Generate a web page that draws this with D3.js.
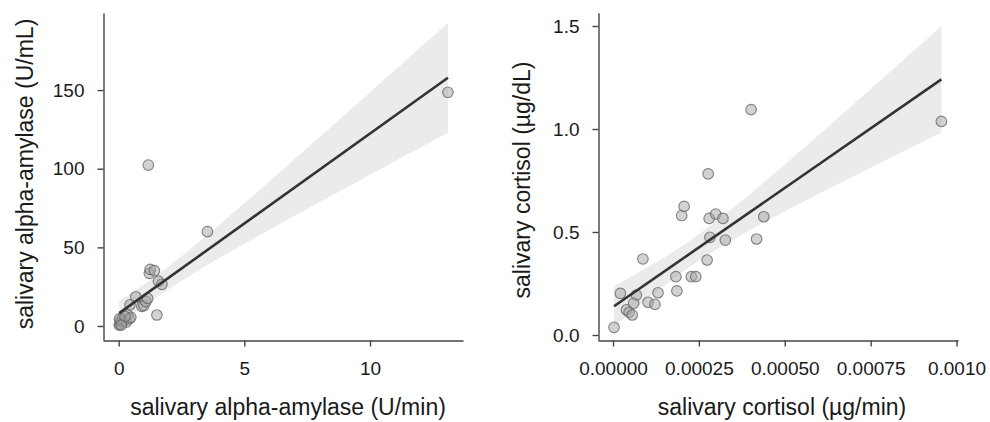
<!DOCTYPE html>
<html>
<head>
<meta charset="utf-8">
<script src="https://cdn.jsdelivr.net/npm/d3@7"></script>
<style>
  html, body { margin: 0; padding: 0; background: #fff; }
  svg { display: block; font-family: "Liberation Sans", Arial, Helvetica, sans-serif; }
</style>
</head>
<body>
<svg id="chart" width="990" height="422"></svg>
<script>
// Salivary alpha-amylase: secretion rate (U/min) against concentration (U/mL)
const amylaseRate = [0.02, 0.05, 0.08, 0.12, 0.15, 0.22, 0.30, 0.35, 0.42, 0.48,
                     0.45, 0.68, 0.92, 1.00, 1.08, 1.15, 1.18, 1.22, 1.25, 1.42,
                     1.52, 1.58, 1.72, 3.53, 13.10, 0.03, 0.25, 0.10];
const amylaseConc = [0.6, 1.5, 3.8, 2.7, 5.0, 3.5, 2.5, 7.0, 4.5, 5.5,
                     13.5, 18.6, 12.5, 13.0, 15.5, 17.5, 102.3, 33.5, 36.0, 35.2,
                     7.0, 28.5, 26.5, 60.0, 148.6, 4.5, 6.0, 0.5];
const amylaseXTicks = [0, 5, 10];
const amylaseXTickLabels = ["0", "5", "10"];
const amylaseYTicks = [0, 50, 100, 150];
const amylaseYTickLabels = ["0", "50", "100", "150"];

// Salivary cortisol: secretion rate (µg/min) against concentration (µg/dL)
const cortisolRate = [0.000003, 0.0000215, 0.000068, 0.000039, 0.000047, 0.000056, 0.000060,
                      0.000087, 0.000102, 0.000122, 0.000131, 0.000183, 0.000186, 0.000200,
                      0.000207, 0.000228, 0.000241, 0.000274, 0.000277, 0.000280, 0.000282,
                      0.000299, 0.000320, 0.000327, 0.000402, 0.000418, 0.000439, 0.000956];
const cortisolConc = [0.037, 0.202, 0.194, 0.122, 0.110, 0.097, 0.154,
                      0.369, 0.159, 0.149, 0.205, 0.283, 0.214, 0.580,
                      0.624, 0.283, 0.283, 0.364, 0.782, 0.566, 0.474,
                      0.587, 0.566, 0.461, 1.094, 0.466, 0.574, 1.037];
const cortisolXTicks = [0, 0.00025, 0.0005, 0.00075, 0.001];
const cortisolXTickLabels = ["0.00000", "0.00025", "0.00050", "0.00075", "0.0010"];
const cortisolYTicks = [0, 0.5, 1.0, 1.5];
const cortisolYTickLabels = ["0.0", "0.5", "1.0", "1.5"];

const panels = [
  {
    x: amylaseRate, y: amylaseConc,
    xTicks: amylaseXTicks, xTickLabels: amylaseXTickLabels,
    yTicks: amylaseYTicks, yTickLabels: amylaseYTickLabels,
    xDomain: [-0.625, 13.70], yDomain: [-8.9, 199],
    xRange: [103, 463], yRange: [340, 13],
    xTitle: "salivary alpha-amylase (U/min)", xTitlePos: [288, 415],
    yTitle: "salivary alpha-amylase (U/mL)", yTitlePos: [33, 174]
  },
  {
    x: cortisolRate, y: cortisolConc,
    xTicks: cortisolXTicks, xTickLabels: cortisolXTickLabels,
    yTicks: cortisolYTicks, yTickLabels: cortisolYTickLabels,
    xDomain: [-0.0000437, 0.0010044], yDomain: [-0.0243, 1.5646],
    xRange: [598, 958], yRange: [340, 12.7],
    xTitle: "salivary cortisol (µg/min)", xTitlePos: [782, 415],
    yTitle: "salivary cortisol (µg/dL)", yTitlePos: [530, 180]
  }
];

// Two-sided 95% Student-t quantile (Cornish-Fisher expansion around the normal quantile)
function tQuantile975(df) {
  const z = 1.959964;
  const g1 = (z ** 3 + z) / 4;
  const g2 = (5 * z ** 5 + 16 * z ** 3 + 3 * z) / 96;
  const g3 = (3 * z ** 7 + 19 * z ** 5 + 17 * z ** 3 - 15 * z) / 384;
  return z + g1 / df + g2 / df ** 2 + g3 / df ** 3;
}

// Ordinary least squares fit with a 95% confidence band for the mean
function linearFit(xs, ys) {
  const n = xs.length;
  const mx = d3.mean(xs), my = d3.mean(ys);
  let sxx = 0, sxy = 0;
  for (let i = 0; i < n; i++) {
    sxx += (xs[i] - mx) ** 2;
    sxy += (xs[i] - mx) * (ys[i] - my);
  }
  const b = sxy / sxx, a = my - b * mx;
  let sse = 0;
  for (let i = 0; i < n; i++) sse += (ys[i] - (a + b * xs[i])) ** 2;
  const s = Math.sqrt(sse / (n - 2));
  const t = tQuantile975(n - 2);
  return {
    predict: x => a + b * x,
    half: x => t * s * Math.sqrt(1 / n + (x - mx) ** 2 / sxx)
  };
}

const svg = d3.select("#chart");

panels.forEach(p => {
  const xScale = d3.scaleLinear().domain(p.xDomain).range(p.xRange);
  const yScale = d3.scaleLinear().domain(p.yDomain).range(p.yRange);
  const g = svg.append("g");

  const fit = linearFit(p.x, p.y);
  const [xMin, xMax] = d3.extent(p.x);
  const samples = d3.range(0, 101).map(i => xMin + (xMax - xMin) * i / 100);

  // confidence band
  g.append("path")
    .datum(samples)
    .attr("fill", "#ebebeb")
    .attr("d", d3.area()
      .x(d => xScale(d))
      .y0(d => yScale(fit.predict(d) - fit.half(d)))
      .y1(d => yScale(fit.predict(d) + fit.half(d))));

  // observations
  g.selectAll("circle")
    .data(p.x.map((xv, i) => [xv, p.y[i]]))
    .join("circle")
    .attr("cx", d => xScale(d[0]))
    .attr("cy", d => yScale(d[1]))
    .attr("r", 5.3)
    .attr("fill", "rgba(165,165,165,0.5)")
    .attr("stroke", "rgba(95,95,95,0.75)")
    .attr("stroke-width", 1.1);

  // fitted line
  g.append("path")
    .datum([xMin, xMax])
    .attr("fill", "none")
    .attr("stroke", "#333")
    .attr("stroke-width", 2.6)
    .attr("d", d3.line().x(d => xScale(d)).y(d => yScale(fit.predict(d))));

  // axes
  const xAxis = d3.axisBottom(xScale)
    .tickValues(p.xTicks)
    .tickFormat((d, i) => p.xTickLabels[i])
    .tickSizeInner(6).tickSizeOuter(0).tickPadding(15);
  const yAxis = d3.axisLeft(yScale)
    .tickValues(p.yTicks)
    .tickFormat((d, i) => p.yTickLabels[i])
    .tickSizeInner(6).tickSizeOuter(0).tickPadding(13);

  const gx = g.append("g")
    .attr("transform", `translate(0,${p.yRange[0] + 0.5})`)
    .call(xAxis);
  const gy = g.append("g")
    .attr("transform", `translate(${p.xRange[0] + 0.5},0)`)
    .call(yAxis);

  [gx, gy].forEach(a => {
    a.select(".domain").attr("stroke", "#444").attr("stroke-width", 1.4);
    a.selectAll(".tick line").attr("stroke", "#444").attr("stroke-width", 1.4);
    a.selectAll(".tick text")
      .attr("fill", "#1a1a1a")
      .style("font-size", "19px")
      .style("font-family", "'Liberation Sans', Arial, Helvetica, sans-serif");
  });

  // axis titles
  g.append("text")
    .attr("x", p.xTitlePos[0]).attr("y", p.xTitlePos[1])
    .attr("text-anchor", "middle")
    .attr("fill", "#1a1a1a")
    .style("font-size", "23px")
    .text(p.xTitle);
  g.append("text")
    .attr("transform", `translate(${p.yTitlePos[0]},${p.yTitlePos[1]}) rotate(-90)`)
    .attr("text-anchor", "middle")
    .attr("fill", "#1a1a1a")
    .style("font-size", "23px")
    .text(p.yTitle);
});
</script>
</body>
</html>
